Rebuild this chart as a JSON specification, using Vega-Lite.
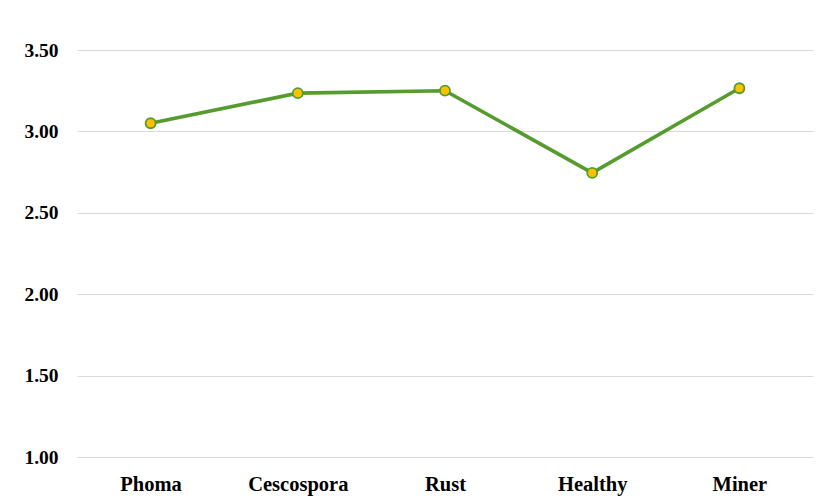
{
  "$schema": "https://vega.github.io/schema/vega-lite/v6.json",
  "width": 736,
  "height": 407,
  "autosize": {"type": "none"},
  "padding": {"left": 77, "top": 50, "right": 14, "bottom": 45},
  "background": "white",
  "config": {
    "view": {"stroke": null},
    "font": "Liberation Serif",
    "axis": {
      "labelFont": "Liberation Serif",
      "labelFontWeight": "bold",
      "labelColor": "#000000",
      "domain": false,
      "ticks": false,
      "title": null
    }
  },
  "data": {
    "values": [
      {"class": "Phoma", "score": 3.05},
      {"class": "Cescospora", "score": 3.235},
      {"class": "Rust", "score": 3.25},
      {"class": "Healthy", "score": 2.745},
      {"class": "Miner", "score": 3.265}
    ]
  },
  "encoding": {
    "x": {
      "field": "class",
      "type": "nominal",
      "sort": null,
      "scale": {"padding": 0.5},
      "axis": {"labelAngle": 0, "labelPadding": 17, "labelFontSize": 20.5, "grid": false}
    },
    "y": {
      "field": "score",
      "type": "quantitative",
      "scale": {"domain": [1, 3.5], "nice": false, "zero": false},
      "axis": {
        "values": [1, 1.5, 2, 2.5, 3, 3.5],
        "format": ".2f",
        "labelFontSize": 19.5,
        "labelPadding": 19,
        "grid": true,
        "gridColor": "#d9d9d9",
        "gridWidth": 1
      }
    }
  },
  "layer": [
    {
      "mark": {"type": "line", "color": "#559B2E", "strokeWidth": 3.6}
    },
    {
      "mark": {
        "type": "point",
        "shape": "circle",
        "filled": true,
        "fill": "#FFC000",
        "stroke": "#559B2E",
        "strokeWidth": 1.8,
        "size": 100,
        "opacity": 1
      }
    }
  ]
}
